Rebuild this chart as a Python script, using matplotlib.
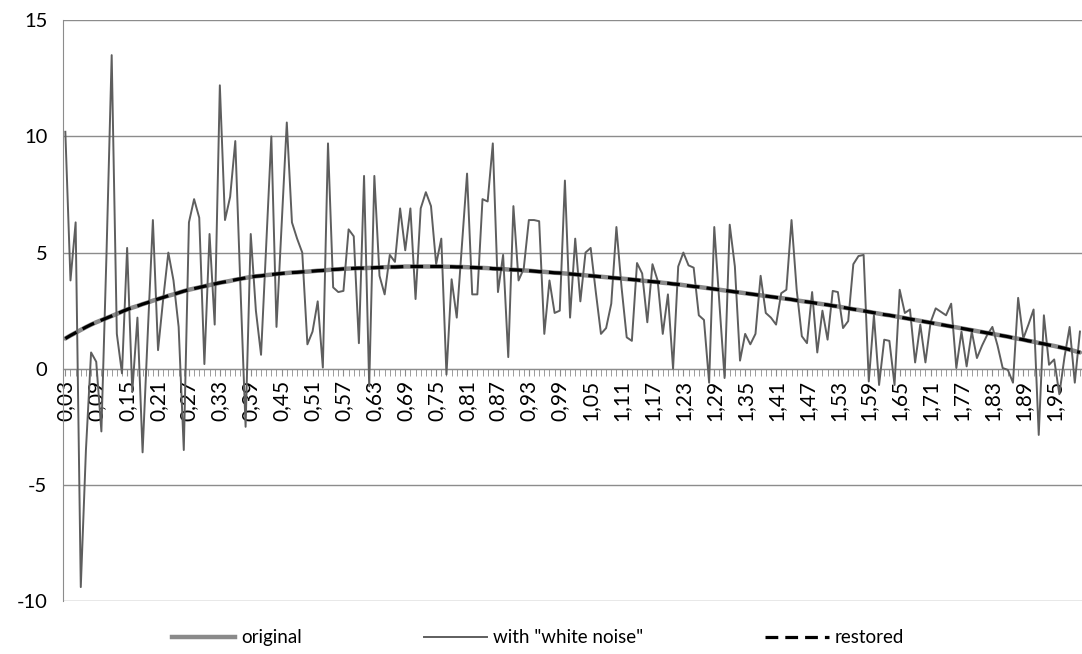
import matplotlib.pyplot as plt
import numpy as np
from matplotlib.lines import Line2D
from matplotlib.ticker import MultipleLocator

plt.rcParams['font.family'] = ['Lato', 'DejaVu Sans']
plt.rcParams['axes.unicode_minus'] = False

# signal with "white noise", one value per category (0.03, 0.04, ...)
noisy = [10.2, 3.8, 6.3, -9.4, -3.5, 0.7, 0.3, -2.7, 5.0, 13.5,
         1.5, -0.2, 5.2, -1.0, 2.2, -3.6, 1.5, 6.4, 0.8, 3.0,
         5.0, 3.8, 1.8, -3.5, 6.3, 7.3, 6.5, 0.2, 5.8, 1.9,
         12.2, 6.4, 7.4, 9.8, 3.5, -2.5, 5.8, 2.5, 0.6, 5.3,
         10.0, 1.8, 6.2, 10.6, 6.3, 5.6, 5.0, 1.05, 1.6, 2.9,
         0.05, 9.7, 3.5, 3.3, 3.35, 6.0, 5.7, 1.1, 8.3, -0.75,
         8.3, 4.0, 3.2, 4.9, 4.6, 6.9, 5.1, 6.9, 3.0, 6.9,
         7.6, 7.0, 4.5, 5.6, -0.25, 3.85, 2.2, 5.3, 8.4, 3.2,
         3.2, 7.3, 7.2, 9.7, 3.3, 4.9, 0.5, 7.0, 3.8, 4.3,
         6.4, 6.4, 6.35, 1.5, 3.8, 2.4, 2.5, 8.1, 2.2, 5.6,
         2.9, 5.0, 5.2, 3.3, 1.5, 1.75, 2.8, 6.1, 3.5, 1.35,
         1.2, 4.55, 4.1, 2.0, 4.5, 3.8, 1.5, 3.2, 0.0, 4.4,
         5.0, 4.45, 4.35, 2.3, 2.1, -0.6, 6.1, 2.8, -0.4, 6.2,
         4.4, 0.35, 1.5, 1.05, 1.5, 4.0, 2.4, 2.2, 1.9, 3.25,
         3.4, 6.4, 3.4, 1.4, 1.1, 3.3, 0.7, 2.5, 1.25, 3.35,
         3.3, 1.75, 2.05, 4.5, 4.85, 4.9, -0.55, 2.3, -0.7, 1.25,
         1.2, -0.7, 3.4, 2.4, 2.55, 0.27, 1.9, 0.27, 2.0, 2.6,
         2.45, 2.3, 2.8, 0.03, 1.6, 0.1, 1.6, 0.46, 1.0, 1.46,
         1.8, 1.0, 0.03, -0.05, -0.6, 3.05, 1.3, 1.9, 2.55, -2.85,
         2.3, 0.17, 0.4, -1.1, 0.5, 1.8, -0.6, 1.6]

# original smooth signal
original = [1.30, 1.43, 1.55, 1.67, 1.79, 1.90, 2.00, 2.09, 2.18, 2.27,
            2.36, 2.46, 2.55, 2.63, 2.70, 2.78, 2.85, 2.93, 3.00, 3.07,
            3.14, 3.20, 3.27, 3.34, 3.40, 3.45, 3.50, 3.55, 3.60, 3.65,
            3.70, 3.74, 3.78, 3.83, 3.87, 3.91, 3.95, 3.98, 4.00, 4.03,
            4.05, 4.08, 4.10, 4.12, 4.14, 4.15, 4.17, 4.18, 4.20, 4.22,
            4.23, 4.25, 4.27, 4.28, 4.30, 4.31, 4.32, 4.33, 4.33, 4.34,
            4.35, 4.36, 4.37, 4.38, 4.38, 4.39, 4.40, 4.40, 4.40, 4.40,
            4.40, 4.40, 4.40, 4.40, 4.39, 4.39, 4.38, 4.38, 4.37, 4.36,
            4.35, 4.34, 4.33, 4.31, 4.30, 4.29, 4.27, 4.26, 4.25, 4.23,
            4.22, 4.20, 4.18, 4.17, 4.15, 4.13, 4.12, 4.10, 4.08, 4.06,
            4.04, 4.02, 4.00, 3.98, 3.96, 3.94, 3.92, 3.90, 3.88, 3.86,
            3.84, 3.82, 3.79, 3.77, 3.75, 3.73, 3.70, 3.68, 3.65, 3.63,
            3.60, 3.57, 3.54, 3.52, 3.49, 3.46, 3.43, 3.40, 3.37, 3.34,
            3.31, 3.28, 3.25, 3.22, 3.19, 3.16, 3.13, 3.10, 3.07, 3.04,
            3.01, 2.98, 2.94, 2.91, 2.88, 2.85, 2.81, 2.78, 2.75, 2.71,
            2.68, 2.64, 2.60, 2.56, 2.53, 2.49, 2.45, 2.41, 2.37, 2.33,
            2.30, 2.26, 2.22, 2.18, 2.14, 2.10, 2.06, 2.02, 1.98, 1.94,
            1.90, 1.86, 1.82, 1.78, 1.74, 1.70, 1.66, 1.62, 1.58, 1.54,
            1.50, 1.46, 1.42, 1.38, 1.33, 1.29, 1.25, 1.20, 1.16, 1.11,
            1.07, 1.02, 0.98, 0.93, 0.88, 0.82, 0.76, 0.70]

# restored signal lies on top of the original one
restored = list(original)

tick_labels = ['0,03', '0,09', '0,15', '0,21', '0,27', '0,33', '0,39', '0,45',
               '0,51', '0,57', '0,63', '0,69', '0,75', '0,81', '0,87', '0,93',
               '0,99', '1,05', '1,11', '1,17', '1,23', '1,29', '1,35', '1,41',
               '1,47', '1,53', '1,59', '1,65', '1,71', '1,77', '1,83', '1,89',
               '1,95']

x = np.arange(len(noisy))

fig = plt.figure(figsize=(10.82, 6.54), dpi=100)
ax = fig.add_axes([0.058, 0.081, 0.942, 0.888])

# spine position first, it resets the tick settings
ax.spines['bottom'].set_position(('data', 0))
ax.spines['bottom'].set_color('#8c8c8c')
ax.spines['left'].set_color('#8c8c8c')
ax.spines['top'].set_visible(False)
ax.spines['right'].set_visible(False)

ax.plot(x, original, color='#8a8a8a', lw=3.2, solid_capstyle='round', zorder=3)
ax.plot(x, noisy, color='#5e5e5e', lw=1.4, zorder=4)
ax.plot(x, restored, color='black', lw=2.3, dashes=(4, 2.2), zorder=5)

ax.set_xlim(-0.5, len(noisy) - 0.6)
ax.set_ylim(-10, 15)
ax.set_yticks([-10, -5, 0, 5, 10, 15])
ax.grid(axis='y', color='#8c8c8c', lw=1.0)
ax.set_axisbelow(True)

ax.set_xticks(np.arange(0, len(noisy), 6))
ax.set_xticklabels(tick_labels)
ax.xaxis.set_minor_locator(MultipleLocator(1))
ax.tick_params(axis='x', which='both', direction='out', length=5,
               color='#8c8c8c', pad=3, labelsize=15, labelrotation=90)
ax.tick_params(axis='y', length=0, labelsize=14.5, pad=11)

handles = [Line2D([], [], color='#8a8a8a', lw=3.2),
           Line2D([], [], color='#5e5e5e', lw=1.4),
           Line2D([], [], color='black', lw=2.3, dashes=(4, 2.2))]
fig.legend(handles, ['original', 'with "white noise"', 'restored'],
           loc='center', bbox_to_anchor=(0.497, 0.025), ncol=3, frameon=False,
           fontsize=13.5, handlelength=3.4, handletextpad=0.3,
           columnspacing=6.5)

fig.savefig('out.png', dpi=100)
